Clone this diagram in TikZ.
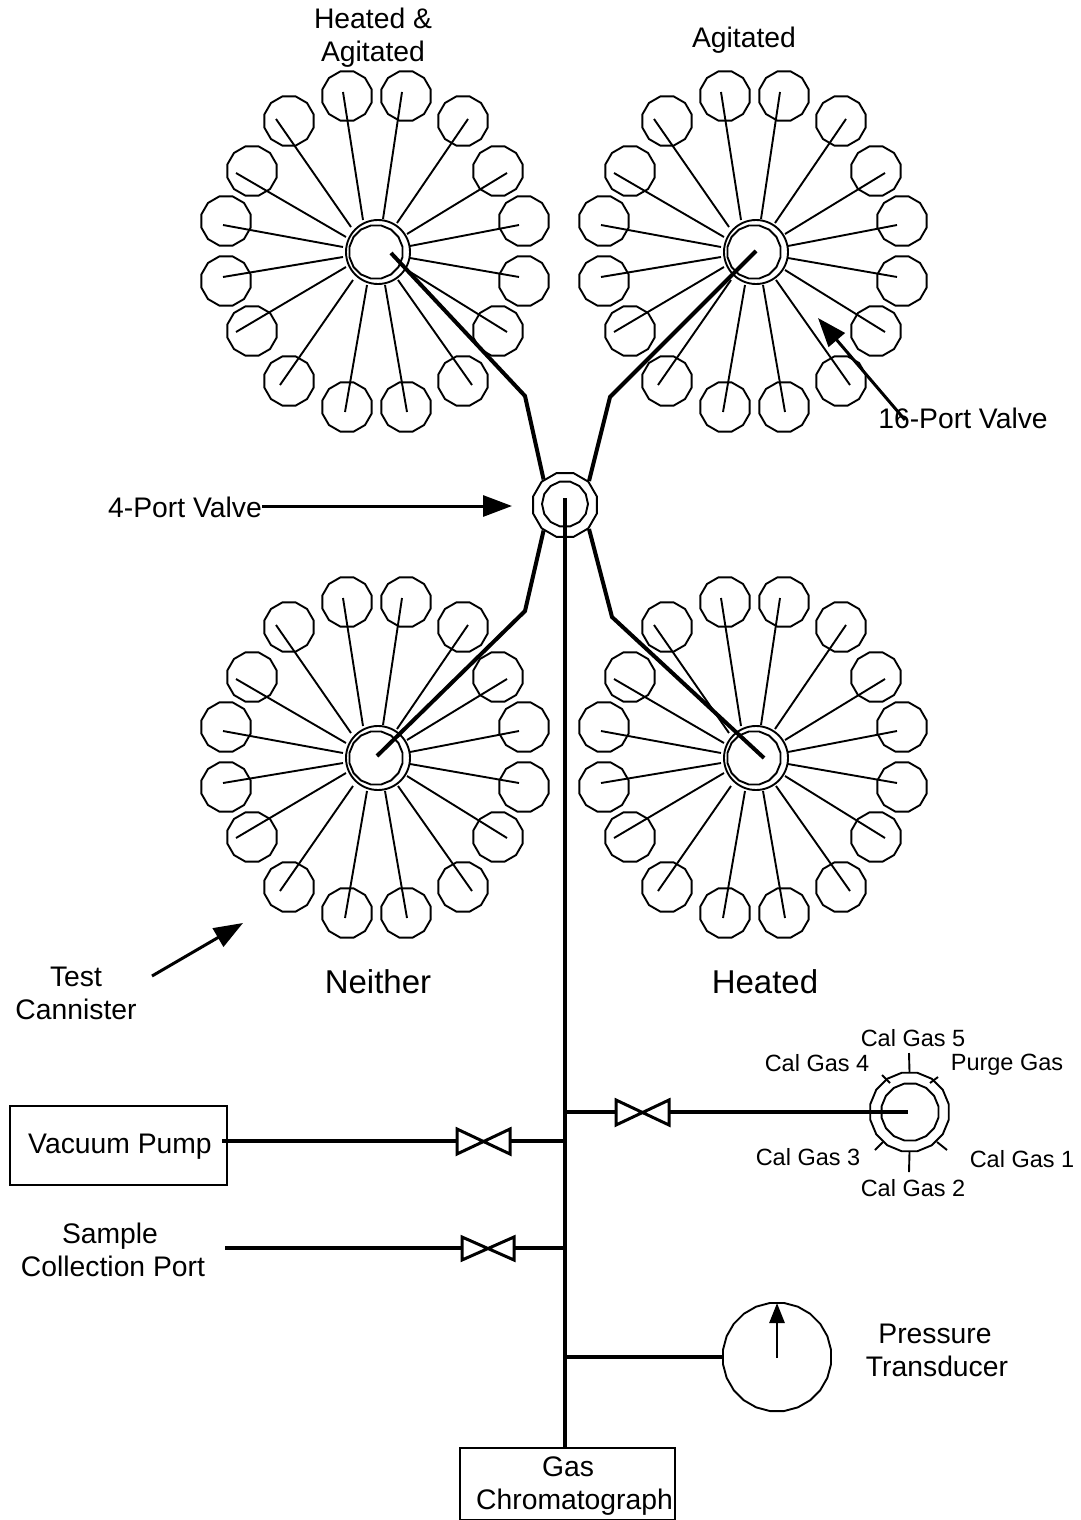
\documentclass[tikz,border=0pt]{standalone}
\usepackage{fontspec}
\setmainfont{Liberation Sans}
\usetikzlibrary{shapes.geometric,arrows.meta}
\tikzset{
  canister/.style={draw,regular polygon,regular polygon sides=12,minimum size=51pt,inner sep=0pt,line width=1.9pt},
  hubouter/.style={draw,circle,minimum size=64pt,inner sep=0pt,line width=1.9pt},
  hubinner/.style={draw,regular polygon,regular polygon sides=16,minimum size=54pt,inner sep=0pt,line width=1.9pt},
  spoke/.style={line width=1.9pt},
  thickline/.style={line width=4pt,line join=miter},
  pipe/.style={line width=3.4pt},
  callout/.style={line width=3pt,-{Triangle[length=29pt,width=21pt]}},
  box/.style={draw,line width=1.6pt,inner sep=0pt},
  label/.style={font=\fontsize{28.3}{33}\selectfont,align=center,inner sep=0pt},
  biglabel/.style={font=\fontsize{33}{38}\selectfont,inner sep=0pt},
  smalllabel/.style={font=\fontsize{23.5}{28}\selectfont,inner sep=0pt},
  valveshape/.style={line width=3pt,line join=miter}
}
\begin{document}
\begin{tikzpicture}[x=1pt,y=-1pt]
\useasboundingbox (0,0) rectangle (1080,1520);
% four 16-port wheels
\foreach \w/\cx/\cy in {a/376/252,b/754/252,c/376/758,d/754/758}{
  \begin{scope}[shift={(\cx,\cy)}]
    \node[hubouter] (\w-hub) at (2,0) {};
    \node[hubinner] (\w-in) at (0,0) {};
    \foreach \i/\dx/\dy/\ex/\ey/\sx/\sy in {
      1/-29/-156/-33/-160/-13/-32, 2/30/-156/26/-160/7/-33, 3/-87/-131/-100/-133/-25/-25, 4/-124/-81/-140/-79/-30/-15,
      5/-150/-31/-153/-27/-33/-5, 6/-150/29/-153/25/-33/5, 7/-124/79/-140/80/-30/15, 8/-87/129/-96/133/-23/28,
      9/-29/155/-31/160/-9/33, 10/30/155/31/160/9/33, 11/87/129/96/133/22/28, 12/122/79/131/80/31/18,
      13/148/29/143/25/34/6, 14/148/-31/143/-27/34/-6, 15/122/-81/131/-79/31/-18, 16/87/-131/92/-133/21/-29}{
      \node[canister] (\w-c\i) at (\dx,\dy) {};
      \coordinate (\w-e\i) at (\ex,\ey);
      \coordinate (\w-s\i) at (\sx,\sy);
      \draw[spoke] (\w-s\i) -- (\w-e\i);
    }
  \end{scope}
}
% 4-port valve
\node[draw,regular polygon,regular polygon sides=12,minimum size=66pt,inner sep=0pt,line width=1.9pt] (valve) at (565,505) {};
\node[draw,regular polygon,regular polygon sides=14,minimum size=46pt,inner sep=0pt,line width=1.9pt] (valvein) at (565,504) {};
% thick lines from wheels to valve
\coordinate (a-s) at (391,253); \coordinate (a-b) at (525,396);
\coordinate (b-s) at (756,251); \coordinate (b-b) at (610,397);
\coordinate (c-s) at (377,756); \coordinate (c-b) at (525,611);
\coordinate (d-s) at (764,758); \coordinate (d-b) at (612,617);
\draw[thickline] (a-s) -- (a-b) -- (valve.130);
\draw[thickline] (b-s) -- (b-b) -- (valve.45);
\draw[thickline] (c-s) -- (c-b) -- (valve.230);
\draw[thickline] (d-s) -- (d-b) -- (valve.315);
% GC box and trunk
\node[box,minimum width=215pt,minimum height=72pt] (gc) at (567.5,1484) {};
\node[label] (gclabel) at (568,1486) {Gas\\\hspace*{13pt}Chromatograph};
\coordinate (trunktop) at (565,498);
\draw[line width=4pt] (trunktop) -- (565,1448);
% vacuum pump branch
\node[box,minimum width=217pt,minimum height=79pt] (pump) at (118.5,1145.5) {};
\node[label] (pumplabel) at (120,1147) {Vacuum Pump};
\coordinate (p1) at (222,1141); \coordinate (j1) at (565,1141);
\coordinate (v1l) at (457,1141); \coordinate (v1r) at (510,1141);
\draw[pipe] (p1) -- (v1l); \draw[pipe] (v1r) -- (j1);
\draw[valveshape] (457,1129) -- (510,1154) -- (510,1129) -- (457,1154) -- cycle;
% sample port branch
\node[label] (sample) at (110,1250) {Sample\\\hspace*{6pt}Collection Port};
\coordinate (p2) at (225,1248); \coordinate (j2) at (565,1248);
\coordinate (v2l) at (462,1248); \coordinate (v2r) at (514,1248);
\draw[pipe] (p2) -- (v2l); \draw[pipe] (v2r) -- (j2);
\draw[valveshape] (462,1237) -- (514,1260) -- (514,1237) -- (462,1260) -- cycle;
% cal gas selector
\node[draw,regular polygon,regular polygon sides=16,minimum size=80pt,inner sep=0pt,line width=1.9pt] (cal) at (909.5,1112) {};
\node[draw,regular polygon,regular polygon sides=16,minimum size=58pt,inner sep=0pt,line width=1.9pt] (calin) at (910,1112) {};
\coordinate (j3) at (565,1112); \coordinate (calc) at (908,1112);
\coordinate (v3l) at (616,1112); \coordinate (v3r) at (669,1112);
\draw[pipe] (j3) -- (v3l); \draw[pipe] (v3r) -- (calc);
\draw[valveshape] (616,1100) -- (669,1125) -- (669,1100) -- (616,1125) -- cycle;
\draw[spoke] (909,1053) -- (cal.90);
\draw[spoke] (909,1172) -- (cal.270);
\draw[spoke] (882,1075) -- (890,1083);
\draw[spoke] (930,1083) -- (938,1077);
\draw[spoke] (875,1150) -- (883,1142);
\draw[spoke] (937,1142) -- (947,1150);
\node[smalllabel] (g5) at (913,1038) {Cal Gas 5};
\node[smalllabel] (g4) at (817,1063) {Cal Gas 4};
\node[smalllabel] (pg) at (1007,1065) {Purge Gas};
\node[smalllabel] (g3) at (808,1157) {Cal Gas 3};
\node[smalllabel] (g1) at (1022,1159) {Cal Gas 1};
\node[smalllabel] (g2) at (913,1188) {Cal Gas 2};
% pressure transducer
\node[draw,regular polygon,regular polygon sides=24,minimum size=109pt,inner sep=0pt,line width=1.9pt] (pt) at (777,1357) {};
\coordinate (j4) at (565,1357);
\draw[pipe] (j4) -- (pt);
\coordinate (ptc) at (777,1358); \coordinate (ptt) at (777,1303);
\draw[line width=2.8pt,-{Triangle[length=20pt,width=15pt]}] (ptc) -- (ptt);
\node[label] (ptlabel) at (935,1350) {Pressure\\\hspace*{4pt}Transducer};
% titles
\node[label] (t1) at (373,38) {Heated \&\\Agitated};
\node[label] (t2) at (744,40) {Agitated};
\node[biglabel] (t3) at (378,982) {Neither};
\node[biglabel] (t4) at (765,982) {Heated};
% callouts
\node[label] (l4) at (185,507) {4-Port Valve};
\coordinate (l4e) at (262,506); \coordinate (l4t) at (512,506);
\draw[callout] (l4e) -- (l4t);
\node[label] (l16) at (963,418) {16-Port Valve};
\coordinate (l16e) at (905,420); \coordinate (l16t) at (818,318);
\draw[callout] (l16e) -- (l16t);
\node[label] (lt) at (76,993) {Test\\Cannister};
\coordinate (lte) at (152,976); \coordinate (ltt) at (243,923);
\draw[callout] (lte) -- (ltt);
\end{tikzpicture}
\end{document}
